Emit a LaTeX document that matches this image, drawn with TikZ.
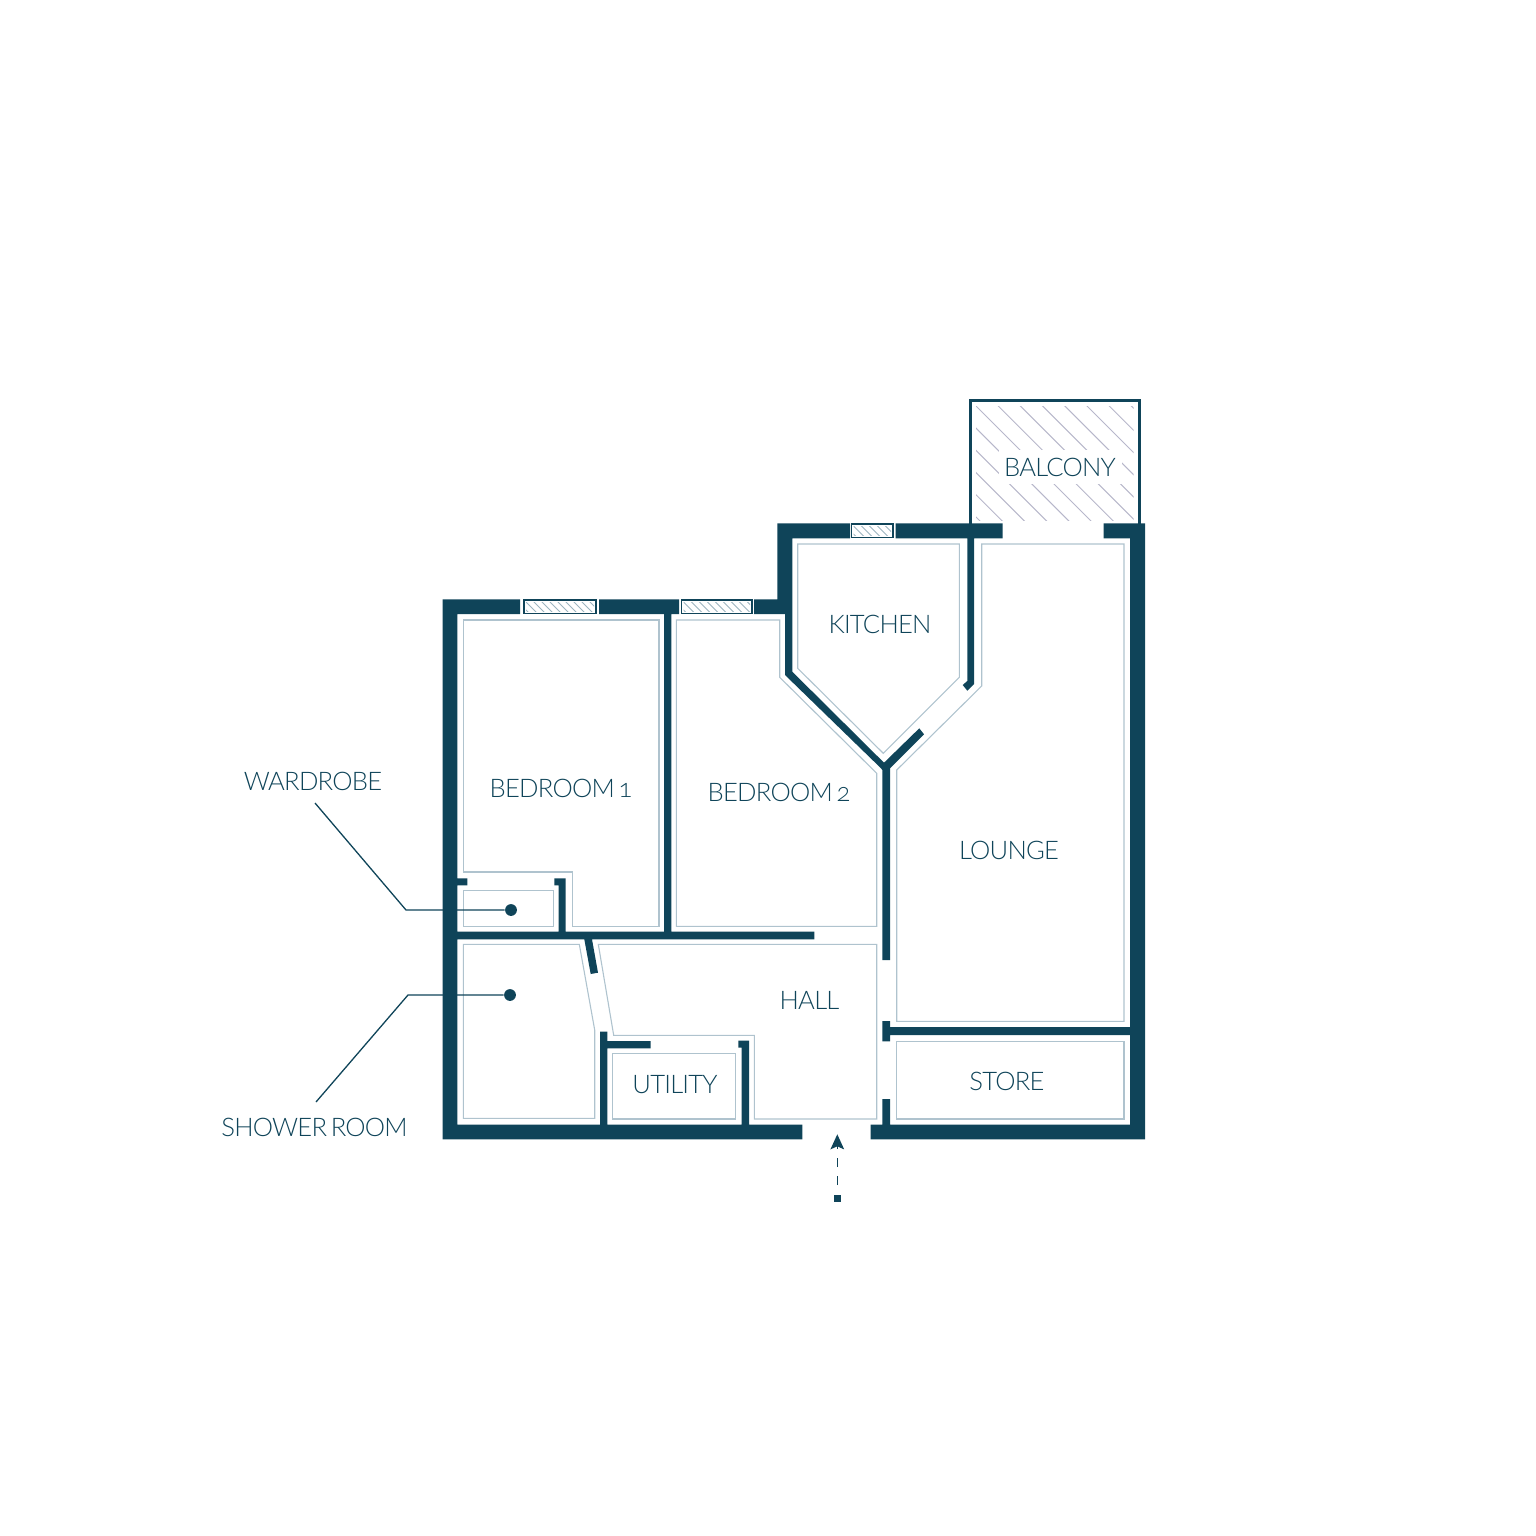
\documentclass[tikz,border=0pt]{standalone}
\usepackage{fontspec}
\setmainfont{Lato Light}[LetterSpace=-3,Numbers=OldStyle,WordSpace=.6]
\usetikzlibrary{arrows.meta}
\definecolor{wallblue}{HTML}{0F4459}
\definecolor{roomline}{HTML}{AFC3CE}
\definecolor{hatchgrey}{HTML}{B7B7CA}
\definecolor{sillgrey}{HTML}{9DB5C0}
\tikzset{
  wall/.style={fill=wallblue},
  room/.style={draw=roomline,line width=.55pt,line join=miter},
  sill/.style={draw=wallblue,line width=.9pt,fill=white},
  roomlabel/.style={text=wallblue,font=\fontsize{12.8}{15}\selectfont,inner sep=0pt},
  leader/.style={draw=wallblue,line width=.65pt},
  blob/.style={circle,fill=wallblue,inner sep=0pt,minimum size=5.9pt}
}
\begin{document}
\begin{tikzpicture}[x=.5pt,y=-.5pt]
\useasboundingbox (0,0) rectangle (1536,1536);
% balcony
\begin{scope}
  \clip (976,406) rectangle (1133.5,520);
  \foreach \k in {-5,...,7}
    \draw[hatchgrey,line width=.5pt] ({570+22.2*\k+400},400) -- ({570+22.2*\k+530},530);
\end{scope}
\fill[white] (999,450) rectangle (1121.5,484);
\draw[wallblue,line width=1.25pt] (970.5,524) -- (970.5,400.3) -- (1139.5,400.3) -- (1139.5,524);
% walls
\fill[wall] (777.3,523.3) -- (850,523.3) -- (850,538.3) -- (792.3,538.3) -- (792.3,671.7)
  -- (884,762.7) -- (919.3,728.3) -- (924,734.3) -- (890,768.3) -- (890,960) -- (882.3,960)
  -- (882.3,770) -- (880.7,768) -- (785,675) -- (785,614) -- (754,614) -- (754,599.3)
  -- (777.3,599.3) -- cycle;
\fill[wall] (895.7,523.3) -- (1002.7,523.3) -- (1002.7,538.3) -- (974,538.3) -- (974,684)
  -- (967.3,690.7) -- (962.7,685) -- (967.3,681) -- (967.3,538.3) -- (895.7,538.3) -- cycle;
\fill[wall] (1103.7,523.3) -- (1145,523.3) -- (1145,1139.3) -- (870.7,1139.3) -- (870.7,1124.7)
  -- (882.3,1124.7) -- (882.3,1099) -- (890,1099) -- (890,1124.7) -- (1130,1124.7) -- (1130,1035)
  -- (890,1035) -- (890,1041.3) -- (882.3,1041.3) -- (882.3,1021) -- (890,1021) -- (890,1027)
  -- (1130,1027) -- (1130,538.3) -- (1103.7,538.3) -- cycle;
\fill[wall] (442.7,599.3) -- (520,599.3) -- (520,614) -- (457.3,614) -- (457.3,878.3)
  -- (467.3,878.3) -- (467.3,885.3) -- (457.3,885.3) -- (457.3,931.7) -- (558.7,931.7)
  -- (558.7,885.3) -- (554.3,885.3) -- (554.3,878.3) -- (565.7,878.3) -- (565.7,931.7)
  -- (664,931.7) -- (664,614) -- (599,614) -- (599,599.3) -- (679,599.3) -- (679,614)
  -- (671.3,614) -- (671.3,931.7) -- (814.3,931.7) -- (814.3,939.3) -- (592,939.3)
  -- (598,972.7) -- (590.7,974) -- (584.3,939.3) -- (457.3,939.3) -- (457.3,1124.7)
  -- (600,1124.7) -- (600,1031.7) -- (607.3,1031.7) -- (607.3,1041) -- (650.7,1041)
  -- (650.7,1048.3) -- (607.3,1048.3) -- (607.3,1124.7) -- (741.7,1124.7) -- (741.7,1047.7)
  -- (738.3,1047.7) -- (738.3,1040.7) -- (749,1040.7) -- (749,1124.7) -- (802.3,1124.7)
  -- (802.3,1139.3) -- (442.7,1139.3) -- cycle;
% windows
\foreach \wa/\wb/\wc/\wd in {524/596/600/613.5, 681.5/752/600/613.5, 851.5/893/524/537.5}{
  \draw[sill] (\wa,\wc) rectangle (\wb,\wd);
  \begin{scope}
    \clip (\wa+2,\wc+2) rectangle (\wb-2,\wd-2);
    \foreach \k in {-2,...,11}
      \draw[sillgrey,line width=.4pt] ({\wa+8*\k},\wc) -- ({\wa+8*\k+20},\wc+20);
  \end{scope}
}
% rooms
\draw[room] (463.3,620) -- (659,620) -- (659,926.3) -- (572.7,926.3) -- (572.7,872) -- (463.3,872) -- cycle;
\draw[room] (463.3,890.7) rectangle (553.7,926.3);
\draw[room] (676.3,620) -- (779.7,620) -- (779.7,677.3) -- (876.7,773.3) -- (876.7,926.3) -- (676.3,926.3) -- cycle;
\draw[room] (797.7,544) -- (959.3,544) -- (959.3,677.3) -- (883.3,753.3) -- (797.7,668.3) -- cycle;
\draw[room] (981.7,544) -- (1124,544) -- (1124,1021.3) -- (896.7,1021.3) -- (896.7,770) -- (981.7,686) -- cycle;
\draw[room] (896.7,1041.3) rectangle (1124,1119);
\draw[room] (463.3,944.3) -- (579.3,944.3) -- (594.7,1030) -- (594.7,1118.3) -- (463.3,1118.3) -- cycle;
\draw[room] (612.3,1053.3) rectangle (735.7,1119);
\draw[room] (598.3,944.3) -- (876.7,944.3) -- (876.7,1119) -- (754.3,1119) -- (754.3,1035.3) -- (613.7,1035.3) -- cycle;
% labels
\node[roomlabel] (bedroomone) at (561,788) {BEDROOM 1};
\node[roomlabel] (bedroomtwo) at (779,792) {BEDROOM 2};
\node[roomlabel] (kitchen) at (880,624.5) {KITCHEN};
\node[roomlabel] (balcony) at (1060,467) {BALCONY};
\node[roomlabel] (lounge) at (1009,850) {LOUNGE};
\node[roomlabel] (hall) at (809.5,1000) {HALL};
\node[roomlabel] (utility) at (675,1085) {UTILITY};
\node[roomlabel] (store) at (1007,1081) {STORE};
\node[roomlabel] (wardrobe) at (313,781) {WARDROBE};
\node[roomlabel] (shower) at (314.5,1127) {SHOWER ROOM};
% leaders
\node[blob] (wardrobedot) at (511,910) {};
\node[blob] (showerdot) at (510,995) {};
\coordinate (wardrobefoot) at (315,803);
\coordinate (showerfoot) at (316,1102);
\draw[leader] (wardrobefoot) -- (406,910) -- (wardrobedot);
\draw[leader] (showerfoot) -- (408,995) -- (showerdot);
% entrance
\node[fill=wallblue,inner sep=0pt,minimum size=3.5pt] (entrysq) at (837.3,1198) {};
\coordinate (entrytip) at (837.3,1134.3);
\draw[wallblue,line width=.7pt,dash pattern=on 4.5pt off 4.5pt,dash phase=4.5pt,
  -{Stealth[length=7.5pt,width=6.8pt,inset=1.5pt]}] (entrysq) -- (entrytip);
\end{tikzpicture}
\end{document}
